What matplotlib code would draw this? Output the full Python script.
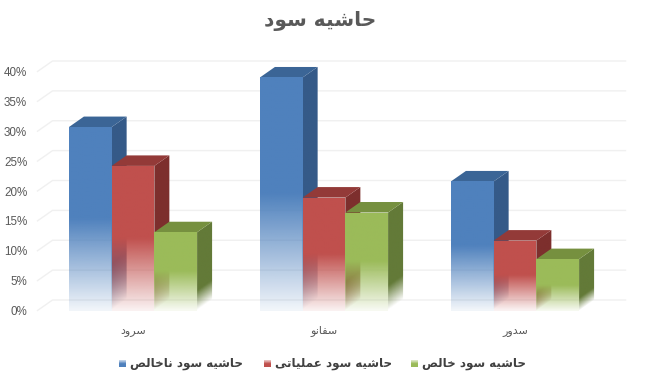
import numpy as np
import matplotlib
matplotlib.use("Agg")
from matplotlib import pyplot as plt
from matplotlib.patches import Polygon
from matplotlib.transforms import Affine2D

title = "حاشیه سود"
categories = ["سرود", "سفانو", "سدور"]
series_names = ["حاشیه سود ناخالص", "حاشیه سود عملیاتی", "حاشیه سود خالص"]
gross = [30.7, 39.0, 21.6]
operating = [24.2, 18.9, 11.7]
net = [13.1, 16.4, 8.6]
y_ticks = [0, 5, 10, 15, 20, 25, 30, 35, 40]

front_colors = ["#4f81bd", "#c0504d", "#9bbb59"]
side_colors = ["#355a88", "#7d2f2d", "#637a38"]
top_colors = ["#3b6596", "#933a38", "#76903f"]

# presentation forms: isolated, final, initial, medial
forms = {
    "ا": (0xFE8D, 0xFE8E), "د": (0xFEA9, 0xFEAA), "ر": (0xFEAD, 0xFEAE), "و": (0xFEED, 0xFEEE),
    "ت": (0xFE95, 0xFE96, 0xFE97, 0xFE98), "ح": (0xFEA1, 0xFEA2, 0xFEA3, 0xFEA4),
    "خ": (0xFEA5, 0xFEA6, 0xFEA7, 0xFEA8), "س": (0xFEB1, 0xFEB2, 0xFEB3, 0xFEB4),
    "ش": (0xFEB5, 0xFEB6, 0xFEB7, 0xFEB8), "ص": (0xFEB9, 0xFEBA, 0xFEBB, 0xFEBC),
    "ع": (0xFEC9, 0xFECA, 0xFECB, 0xFECC), "ف": (0xFED1, 0xFED2, 0xFED3, 0xFED4),
    "ل": (0xFEDD, 0xFEDE, 0xFEDF, 0xFEE0), "م": (0xFEE1, 0xFEE2, 0xFEE3, 0xFEE4),
    "ن": (0xFEE5, 0xFEE6, 0xFEE7, 0xFEE8), "ه": (0xFEE9, 0xFEEA, 0xFEEB, 0xFEEC),
    "ی": (0xFBFC, 0xFBFD, 0xFBFE, 0xFBFF),
}


# matplotlib does not shape arabic, so join the letters by hand and reverse them
def shape(text):
    out = []
    for i, c in enumerate(text):
        if c not in forms:
            out.append(c)
            continue
        prev = text[i - 1] if i > 0 else " "
        nxt = text[i + 1] if i < len(text) - 1 else " "
        after_join = prev in forms and len(forms[prev]) == 4
        before_join = nxt in forms and len(forms[c]) == 4
        if after_join and before_join:
            k = 3
        elif after_join:
            k = 1
        elif before_join:
            k = 2
        else:
            k = 0
        out.append(chr(forms[c][k]))
    return "".join(reversed(out))


W, H = 646, 376
fig = plt.figure(figsize=(W / 100, H / 100), dpi=100)
# front plane of the chart in pixels: x 37.5-610.5, y 71.5-310.5
ax = fig.add_axes([37.5 / W, 1 - 310.5 / H, 573 / W, 239 / H])
for s in ax.spines.values():
    s.set_visible(False)

dx = 15 / 191  # depth of the 3d effect in data units
dy = 10.5 / 5.975
bar_w = 0.2237
pad = 0.1  # image runs past the face and the clip path trims it, no pale edge that way


def fade(color, low=0.08, mid=0.5):
    # alpha stays full down to mid and fades out to the base
    c = np.zeros((120, 2, 4))
    c[:, :, :3] = matplotlib.colors.to_rgb(color)
    w = np.linspace(-pad, 1 + pad, 120)
    c[:, :, 3] = np.clip(low + (1 - low) * w / mid, low, 1)[:, None]
    return c


def face(x0, w, v, shift, color, z, mid=0.5, low=0.08):
    # unit square image sheared onto the face, so the fade follows its slant
    m = Affine2D(np.array([[w, 0, x0], [shift, v, 0], [0, 0, 1.0]]))
    im = ax.imshow(fade(color, low, mid), extent=(-pad, 1 + pad, -pad, 1 + pad), origin="lower", aspect="auto",
                   interpolation="bilinear", transform=m + ax.transData, zorder=z)
    outline = Polygon([(x0, 0), (x0 + w, shift), (x0 + w, v + shift), (x0, v)], transform=ax.transData)
    im.set_clip_path(outline)
    im.set_clip_box(fig.bbox)


# back wall gridlines, with the short slanted piece on the left
for v in y_ticks:
    ax.plot([-0.5, -0.5 + dx, 2.5 + dx], [v, v + dy, v + dy], color="#f0f0f0", lw=1,
            clip_on=False, zorder=1)

for i in range(3):
    for j, vals in enumerate([gross, operating, net]):
        x0 = i + (j - 1.5) * bar_w
        x1 = x0 + bar_w
        v = vals[i]
        z = 3 + i + j * 0.1
        # side, then top, then front, so that later bars cover earlier ones
        face(x1, dx, v, dy, side_colors[j], z, mid=0.25, low=0.0)
        ax.add_patch(Polygon([(x0, v), (x1, v), (x1 + dx, v + dy), (x0 + dx, v + dy)],
                             fc=top_colors[j], ec="none", clip_on=False, zorder=z))
        face(x0, bar_w, v, 0, front_colors[j], z + 0.01)

ax.set_xlim(-0.5, 2.5)
ax.set_ylim(0, 40)
ax.set_aspect("auto")
ax.set_xticks(range(3), [shape(c) for c in categories], family="DejaVu Sans", fontsize=8, color="#595959",
              va="baseline")
ax.set_yticks(y_ticks, [str(v) + "%" for v in y_ticks], family="Liberation Sans", fontsize=8.4, color="#595959")
ax.tick_params(length=0)
ax.tick_params(axis="x", pad=16.5)
ax.tick_params(axis="y", pad=7.4)

fig.text(320.5 / W, 1 - 21 / H, shape(title), family="DejaVu Sans", fontweight="bold", fontsize=14.5,
         color="#595959", ha="center", va="center")

# legend: marker left of the text, as in the chart
lax = fig.add_axes([0, 0, 1, 1], facecolor="none")
lax.axis("off")
marker_x = [119, 264, 411]
text_x = [130, 275, 422]
for name, mx, tx, col in zip(series_names, marker_x, text_x, front_colors):
    lax.imshow(fade(col, low=0.35), extent=(mx, mx + 7, 367, 360), origin="upper", aspect="auto",
               interpolation="bilinear")
    lax.text(tx, 363.5, shape(name), family="DejaVu Sans", fontweight="bold", fontsize=8.6,
             color="#404040", ha="left", va="center")
lax.set_xlim(0, W)
lax.set_ylim(H, 0)

fig.savefig("out.png", dpi=100)
